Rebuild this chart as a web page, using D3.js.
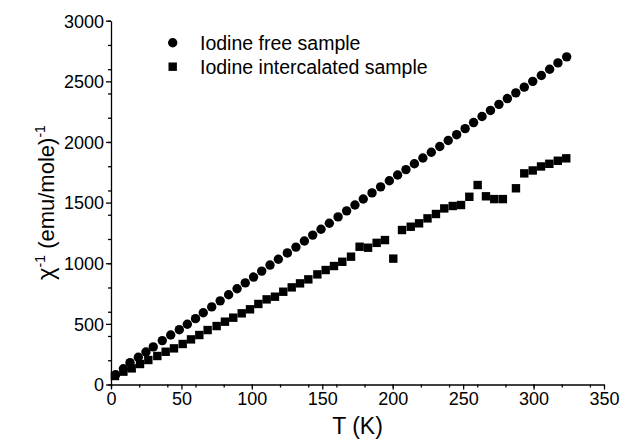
<!DOCTYPE html>
<html>
<head>
<meta charset="utf-8">
<script src="https://cdn.jsdelivr.net/npm/d3@7"></script>
<style>
  body { margin: 0; background: #fff; }
  text { font-family: "Liberation Sans", Arial, sans-serif; fill: #000; }
</style>
</head>
<body>
<div id="chart"></div>
<script>
// --------------------------------------
//  data
// --------------------------------------

const freeT = [3.3, 8.8, 13.5, 19.4, 24.8, 30, 36.4, 42.4, 48.5, 54.2, 60, 65.5, 71.5, 77.5,
  83.5, 89.5, 95.3, 101.2, 107, 112.9, 118.8, 125.2, 131.3, 137.3, 143.2, 149.1, 155, 161.2,
  167.3, 173.2, 179.1, 185.3, 191.4, 197.6, 203.5, 209.4, 215.4, 221.4, 227.4, 233.4, 239.4,
  245.4, 251.4, 257.4, 263.4, 269.4, 275.4, 281.4, 287.4, 293.4, 299.4, 305.5, 311.4, 317.3, 323.5];
const freeChi = [80, 130, 180, 225, 268, 310, 362, 408, 452, 497, 543, 592, 640, 690,
  740, 790, 838, 886, 935, 985, 1033, 1085, 1133, 1183, 1232, 1280, 1330, 1382,
  1432, 1480, 1530, 1580, 1630, 1680, 1728, 1772, 1820, 1868, 1915, 1963, 2012,
  2060, 2110, 2160, 2210, 2260, 2310, 2358, 2405, 2452, 2500, 2548, 2600, 2652, 2702];

const iodT = [2.8, 8.8, 14.7, 20.6, 26.5, 32.9, 38.8, 44.7, 50.9, 56.8, 62.7, 68.6, 75, 80.9,
  86.8, 92.8, 98.7, 104.6, 110.5, 116.4, 122.3, 128.3, 134.2, 140.1, 146.5, 152.4, 158.3,
  164.2, 170.4, 176.5, 182.5, 188.6, 194.5, 200.4, 206.6, 212.8, 218.7, 224.7, 230.7, 236.6,
  242.6, 248.5, 254.4, 260.3, 266.2, 272.1, 278.2, 287.5, 293.4, 299.4, 305.3, 311.2, 317.2, 323.2];
const iodChi = [70, 106, 133, 169, 202, 235, 270, 298, 334, 372, 408, 449, 482, 518,
  551, 587, 620, 664, 702, 724, 765, 801, 834, 867, 908, 944, 977,
  1012, 1054, 1136, 1128, 1168, 1191, 1038, 1274, 1301, 1329, 1370, 1406, 1452,
  1472, 1480, 1548, 1645, 1552, 1529, 1529, 1618, 1741, 1765, 1798, 1820, 1845, 1865];

const xTicks = [0, 50, 100, 150, 200, 250, 300, 350];
const yTicks = [0, 500, 1000, 1500, 2000, 2500, 3000];
const legendLabels = ["Iodine free sample", "Iodine intercalated sample"];

const freeData = freeT.map((t, i) => ({ t: t, v: freeChi[i] }));
const iodData = iodT.map((t, i) => ({ t: t, v: iodChi[i] }));

// --------------------------------------
//  Canvas
// --------------------------------------

const width = 623, height = 441;

const svg = d3.select("#chart")
  .append("svg")
    .attr("width", width)
    .attr("height", height);

// --------------------------------------
//  Scales
// --------------------------------------

let x = d3.scaleLinear()
    .domain([0, 350])
    .range([111, 604]);

let y = d3.scaleLinear()
    .domain([0, 3000])
    .range([384.5, 20.7]);

// --------------------------------------
//  Axes
// --------------------------------------

// minor ticks first
svg.append("g")
  .attr("transform", `translate(0, ${y(0)})`)
  .call(d3.axisBottom(x).ticks(14).tickSize(3).tickSizeOuter(0).tickFormat(""))
  .call(g => g.select(".domain").remove());

svg.append("g")
  .attr("transform", `translate(${x(0)}, 0)`)
  .call(d3.axisLeft(y).ticks(12).tickSize(3).tickSizeOuter(0).tickFormat(""))
  .call(g => g.select(".domain").remove());

const xAxis = svg.append("g")
  .attr("class", "x-axis")
  .attr("transform", `translate(0, ${y(0)})`)
  .call(d3.axisBottom(x).tickValues(xTicks).tickFormat(d3.format("d"))
    .tickSize(5).tickSizeOuter(0).tickPadding(3));

const yAxis = svg.append("g")
  .attr("class", "y-axis")
  .attr("transform", `translate(${x(0)}, 0)`)
  .call(d3.axisLeft(y).tickValues(yTicks).tickFormat(d3.format("d"))
    .tickSize(5).tickSizeOuter(0).tickPadding(2));

svg.selectAll(".tick line, .domain")
  .attr("stroke", "#000")
  .attr("stroke-width", 1.3);

svg.selectAll(".x-axis text, .y-axis text")
  .style("font-size", "18px")
  .attr("fill", "#000");

yAxis.selectAll("text").attr("dy", "0.35em");

// titles
svg.append("text")
  .attr("x", (x(0) + x(350)) / 2)
  .attr("y", 434)
  .attr("text-anchor", "middle")
  .style("font-size", "23px")
  .text("T (K)");

const yTitle = svg.append("text")
  .attr("transform", `translate(54, ${y(1500)}) rotate(-90)`)
  .attr("text-anchor", "middle")
  .style("font-size", "22px");
yTitle.append("tspan").style("font-size", "24px").text("χ");
yTitle.append("tspan").attr("dy", -9).style("font-size", "14px").text("-1");
yTitle.append("tspan").attr("dy", 9).text(" (emu/mole)");
yTitle.append("tspan").attr("dy", -9).style("font-size", "14px").text("-1");

// --------------------------------------
//  data drawing
// --------------------------------------

svg.selectAll(".free_circle")
  .data(freeData)
  .join("circle")
  .attr("class", "free_circle")
  .attr("cx", d => x(d.t))
  .attr("cy", d => y(d.v))
  .attr("r", 4.7)
  .attr("fill", "#000");

const sq = 8.4;
svg.selectAll(".iod_square")
  .data(iodData)
  .join("rect")
  .attr("class", "iod_square")
  .attr("x", d => x(d.t) - sq / 2)
  .attr("y", d => y(d.v) - sq / 2)
  .attr("width", sq)
  .attr("height", sq)
  .attr("fill", "#000");

// --------------------------------------
//  legend
// --------------------------------------

const legend = svg.append("g");
legend.append("circle")
  .attr("cx", 172.7).attr("cy", 42.7).attr("r", 4.7).attr("fill", "#000");
legend.append("rect")
  .attr("x", 172.7 - sq / 2).attr("y", 66.7 - sq / 2)
  .attr("width", sq).attr("height", sq).attr("fill", "#000");
legend.selectAll(".leg_text")
  .data(legendLabels)
  .join("text")
  .attr("class", "leg_text")
  .attr("x", 200)
  .attr("y", (d, i) => 42.7 + i * 24)
  .attr("dy", "0.35em")
  .style("font-size", "19.5px")
  .text(d => d);
</script>
</body>
</html>
